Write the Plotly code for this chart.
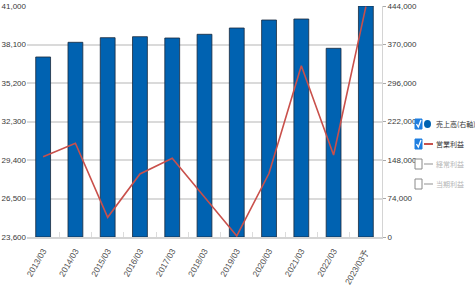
import plotly.graph_objects as go

categories = ["2013/03", "2014/03", "2015/03", "2016/03", "2017/03", "2018/03",
              "2019/03", "2020/03", "2021/03", "2022/03", "2023/03予"]
sales = [346000, 374200, 383100, 385000, 382500, 389600, 401700, 417100, 419000, 362700, 444000]
op_profit = [29650, 30660, 25080, 28350, 29530, 26590, 23680, 28400, 36500, 29780, 40950]

left_ticks = [23600, 26500, 29400, 32300, 35200, 38100, 41000]
right_ticks = [0, 74000, 148000, 222000, 296000, 370000, 444000]

W, H = 475, 300
L, R, T, B = 27, 93, 6, 63
PW, PH = W - L - R, H - T - B

def px(x):
    return (x - L) / PW

def py(y):
    return (H - B - y) / PH

BAR = "#0062b1"
LINE = "#c9504b"
TICKFONT = dict(family="Liberation Sans, Arial, sans-serif", size=8, color="#3a3a3a")

fig = go.Figure()
fig.add_trace(go.Bar(x=categories, y=sales, yaxis="y", marker=dict(color=BAR, line=dict(color="#1b2a3c", width=0.8)),
                     name="売上高(右軸)", showlegend=False))
fig.add_trace(go.Scatter(x=categories, y=op_profit, yaxis="y2", mode="lines", line=dict(color=LINE, width=1.6),
                         name="営業利益", showlegend=False, cliponaxis=True))

fig.update_layout(
    width=W, height=H,
    margin=dict(l=L, r=R, t=T, b=B, autoexpand=False),
    paper_bgcolor="white", plot_bgcolor="white",
    bargap=0.54,
    xaxis=dict(type="category", tickangle=-60, tickfont=dict(TICKFONT, size=8.5, color="#505050"), showgrid=False,
               ticks="inside", tickson="boundaries", ticklen=5, tickcolor="#dcdcdc", ticklabelstandoff=4,
               showline=True, linecolor="#d4d4d4", linewidth=1.5),
    yaxis=dict(side="right", range=[0, 444000], tickvals=right_ticks,
               ticktext=[f"{v:,}" for v in right_ticks], tickfont=TICKFONT,
               showgrid=True, gridcolor="#dadada", gridwidth=2,
               showline=True, linecolor="#d4d4d4", linewidth=1,
               ticks="outside", ticklen=3, tickcolor="#aaaaaa", zeroline=False),
    yaxis2=dict(side="left", overlaying="y", range=[23600, 41000], tickvals=left_ticks,
                ticktext=[f"{v:,}" for v in left_ticks], tickfont=TICKFONT,
                showgrid=False, zeroline=False, showline=False, ticks=""),
)

# custom legend with checkboxes
items = [
    ("売上高(右軸)", True, "bar"),
    ("営業利益", True, "line"),
    ("経常利益", False, "grey"),
    ("当期利益", False, "grey"),
]
ycent = [124, 144, 164, 184]
shapes = []
annotations = []
for (label, checked, kind), yc in zip(items, ycent):
    bx0, bx1 = 415, 422
    by0, by1 = yc - 5, yc + 5
    if checked:
        shapes.append(dict(type="rect", xref="paper", yref="paper", x0=px(bx0), x1=px(bx1), y0=py(by1), y1=py(by0),
                           fillcolor="#1f7fe0", line=dict(color="#1f7fe0", width=1)))
        path = f"M {px(416.5)},{py(yc)} L {px(418.3)},{py(yc + 3)} L {px(421)},{py(yc - 4)}"
        shapes.append(dict(type="path", xref="paper", yref="paper", path=path,
                           line=dict(color="white", width=1.3)))
    else:
        shapes.append(dict(type="rect", xref="paper", yref="paper", x0=px(bx0), x1=px(bx1), y0=py(by1), y1=py(by0),
                           fillcolor="white", line=dict(color="#8a8a8a", width=1)))
    if kind == "bar":
        shapes.append(dict(type="circle", xref="paper", yref="paper", x0=px(424), x1=px(431), y0=py(yc + 4), y1=py(yc - 4),
                           fillcolor=BAR, line=dict(color=BAR, width=0)))
        tcol = "#333333"
    elif kind == "line":
        shapes.append(dict(type="line", xref="paper", yref="paper", x0=px(424), x1=px(433), y0=py(yc), y1=py(yc),
                           line=dict(color=LINE, width=2)))
        tcol = "#333333"
    else:
        shapes.append(dict(type="line", xref="paper", yref="paper", x0=px(424), x1=px(433), y0=py(yc), y1=py(yc),
                           line=dict(color="#c8c8c8", width=2)))
        tcol = "#b5b5b5"
    annotations.append(dict(xref="paper", yref="paper", x=px(434), y=py(yc), text=label, showarrow=False,
                            xanchor="left", yanchor="middle",
                            font=dict(size=7, color=tcol, family="Noto Sans CJK JP")))

fig.update_layout(shapes=shapes, annotations=annotations)
fig.write_html("out.html")
